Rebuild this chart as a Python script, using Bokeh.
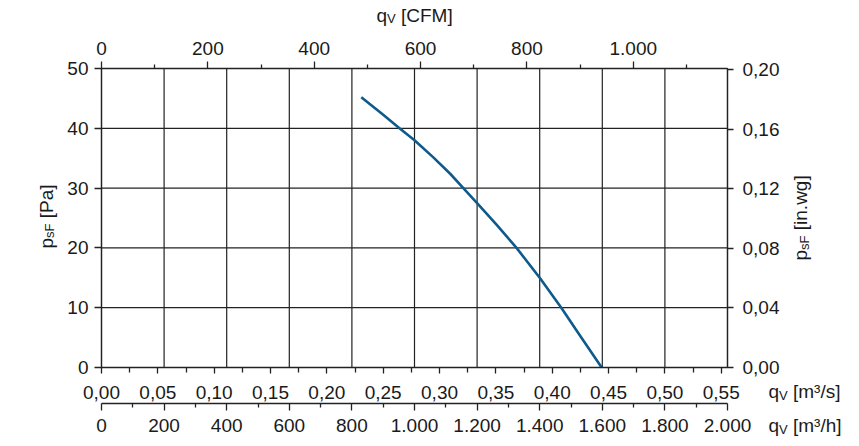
from bokeh.plotting import figure
from bokeh.models import (Range1d, LinearAxis, FixedTicker, Label, CustomJSTickFormatter)
from bokeh.embed import file_html
from bokeh.resources import INLINE

# ---------------- data ----------------
flow_m3h = [830, 899, 952, 1000, 1061, 1114, 1156, 1200, 1262, 1326, 1400, 1469, 1528, 1598]
pressure_pa = [45.2, 42.3, 40.0, 38.0, 35.1, 32.4, 30.0, 27.5, 23.9, 20.0, 15.0, 10.0, 5.4, 0.0]

pa_ticks = [0, 10, 20, 30, 40, 50]
inwg_ticks = [0.0, 0.04, 0.08, 0.12, 0.16, 0.20]
cfm_major = [0, 200, 400, 600, 800, 1000]
cfm_minor = [100, 300, 500, 700, 900, 1100]
m3s_major = [0.0, 0.05, 0.10, 0.15, 0.20, 0.25, 0.30, 0.35, 0.40, 0.45, 0.50, 0.55]
m3s_minor = [0.025, 0.075, 0.125, 0.175, 0.225, 0.275, 0.325, 0.375, 0.425, 0.475, 0.525]
m3h_major = [0, 200, 400, 600, 800, 1000, 1200, 1400, 1600, 1800, 2000]
m3h_minor = [100, 300, 500, 700, 900, 1100, 1300, 1500, 1700, 1900]

X_MAX = 2000.0          # m3/h
Y_MAX = 50.0            # Pa
PA_PER_INWG = 249.089
M3H_PER_CFM = 1.699011
M3H_PER_M3S = 3600.0

# ---------------- layout (pixels) ----------------
W, H = 859, 446
L, R, T, B = 101, 727, 68, 367      # plot box on the canvas
Y_AXIS2 = 402.7                     # second bottom axis line
FONT = "Liberation Sans"
FS = 19
SUB = 13
TXT = "#1a1a1a"
LINE = "#222222"


def to_data(px, py):
    return (px - L) / (R - L) * X_MAX, (B - py) / (B - T) * Y_MAX


X0, Y0 = to_data(0, H)
X1, Y1 = to_data(W, 0)

p = figure(width=W, height=H, x_range=Range1d(X0, X1), y_range=Range1d(Y0, Y1),
           x_axis_location=None, y_axis_location=None, toolbar_location=None,
           output_backend="svg", min_border=0, tools="")
for g in p.grid:
    g.visible = False
p.outline_line_color = None
p.background_fill_color = "white"
p.border_fill_color = "white"

p.extra_y_ranges = {"inwg": Range1d(Y0 / PA_PER_INWG, Y1 / PA_PER_INWG)}
p.extra_x_ranges = {"cfm": Range1d(X0 / M3H_PER_CFM, X1 / M3H_PER_CFM),
                    "m3s": Range1d(X0 / M3H_PER_M3S, X1 / M3H_PER_M3S)}

comma2 = CustomJSTickFormatter(code="return tick.toFixed(2).replace('.', ',');")
thous = CustomJSTickFormatter(code="""
const s = Math.round(tick).toString();
return s.length > 3 ? s.slice(0, s.length - 3) + '.' + s.slice(s.length - 3) : s;
""")


def style(ax, standoff, major_out, minor_out=0):
    ax.major_label_text_font = FONT
    ax.major_label_text_font_size = f"{FS}px"
    ax.major_label_text_color = TXT
    ax.major_label_standoff = standoff
    ax.major_tick_in = 0
    ax.major_tick_out = major_out
    ax.minor_tick_in = 0
    ax.minor_tick_out = minor_out
    ax.axis_line_color = LINE
    ax.axis_line_width = 1.3
    ax.major_tick_line_color = LINE
    ax.major_tick_line_width = 1.3
    ax.minor_tick_line_color = LINE
    ax.minor_tick_line_width = 1.3


# grid lines (drawn from the tick arrays)
p.segment(x0=m3h_major, y0=[0] * len(m3h_major), x1=m3h_major, y1=[Y_MAX] * len(m3h_major),
          line_color=LINE, line_width=1.2)
p.segment(x0=[0] * len(pa_ticks), y0=pa_ticks, x1=[X_MAX] * len(pa_ticks), y1=pa_ticks,
          line_color=LINE, line_width=1.2)

# curve
p.line(flow_m3h, pressure_pa, line_color="#0f5a8c", line_width=2.6, line_join="round")

# axes
left = LinearAxis(ticker=FixedTicker(ticks=pa_ticks), fixed_location=0, bounds=(0, Y_MAX))
style(left, 6, 7)
p.add_layout(left, "left")

right = LinearAxis(y_range_name="inwg", ticker=FixedTicker(ticks=inwg_ticks), formatter=comma2,
                   fixed_location=X_MAX, bounds=(0, Y_MAX / PA_PER_INWG))
style(right, 9, 6)
p.add_layout(right, "right")

top = LinearAxis(x_range_name="cfm", ticker=FixedTicker(ticks=cfm_major, minor_ticks=cfm_minor),
                 formatter=thous, fixed_location=Y_MAX, bounds=(0, X_MAX / M3H_PER_CFM))
style(top, 7, 7, 4)
p.add_layout(top, "above")

bot1 = LinearAxis(x_range_name="m3s", ticker=FixedTicker(ticks=m3s_major, minor_ticks=m3s_minor),
                  formatter=comma2, fixed_location=0, bounds=(0, X_MAX / M3H_PER_M3S))
style(bot1, 12, 6, 5)
p.add_layout(bot1, "below")

bot2 = LinearAxis(ticker=FixedTicker(ticks=m3h_major, minor_ticks=m3h_minor), formatter=thous,
                  fixed_location=to_data(0, Y_AXIS2)[1], bounds=(0, X_MAX))
style(bot2, 9, 7, 4)
p.add_layout(bot2, "below")

# ---------------- composite axis titles ----------------
WID = {'q': .556, 'p': .556, 'V': .667, 's': .5, 'F': .611, ' ': .278, '[': .278, ']': .278,
       'C': .722, 'M': .833, 'm': .833, '³': .333, '/': .278, 'h': .556, 'P': .667,
       'a': .556, 'i': .222, 'n': .556, '.': .278, 'w': .722, 'g': .556}


def tw(text, size):
    return sum(WID.get(c, .556) for c in text) * size


def rich(x0, y0, parts, angle=0.0):
    adv = 0.0
    for text, size, dy in parts:
        if text.strip():
            if angle == 0.0:
                cx, cy = x0 + adv, y0 + dy
            else:
                cx, cy = x0 + dy, y0 - adv
            dx_, dy_ = to_data(cx, cy)
            p.add_layout(Label(x=dx_, y=dy_, text=text, angle=angle, text_font=FONT,
                               text_font_size=f"{size}px", text_color=TXT,
                               text_align="left", text_baseline="alphabetic"))
        adv += tw(text, size)


rich(376, 14.5, [("q", FS, 0), ("V", SUB, 3.5), (" ", FS, 0), ("[CFM]", FS, 0)])
rich(768, 391, [("q", FS, 0), ("V", SUB, 3.5), (" ", FS, 0), ("[m³/s]", FS, 0)])
rich(768, 425, [("q", FS, 0), ("V", SUB, 3.5), (" ", FS, 0), ("[m³/h]", FS, 0)])
rich(45.5, 248, [("p", FS, 0), ("sF", SUB, 3.5), (" ", FS, 0), ("[Pa]", FS, 0)], angle=1.5707963)
rich(800, 260, [("p", FS, 0), ("sF", SUB, 3.5), (" ", FS, 0), ("[in.wg]", FS, 0)], angle=1.5707963)

open("out.html", "w").write(file_html(p, INLINE))
